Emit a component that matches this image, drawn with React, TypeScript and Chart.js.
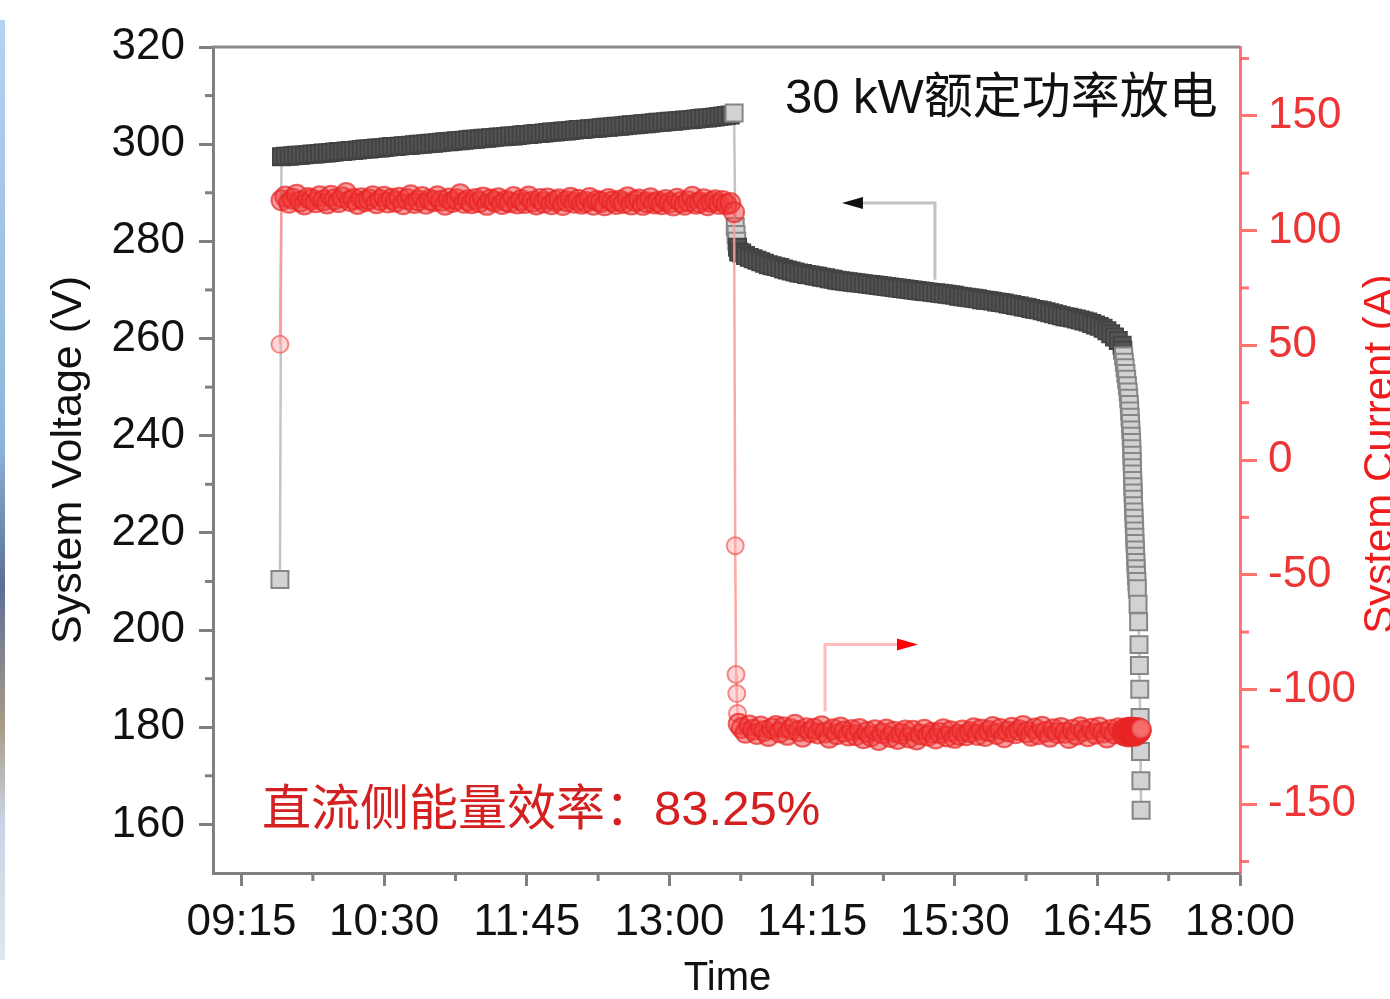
import React, { useEffect, useRef } from 'react';
import { Chart, registerables } from 'chart.js';

Chart.register(...registerables);

// ---- time axis (minutes after midnight) ----
const TIME_TICKS = [555, 630, 705, 780, 855, 930, 1005, 1080];
const TIME_TICK_LABELS = ['09:15', '10:30', '11:45', '13:00', '14:15', '15:30', '16:45', '18:00'];
const TIME_MINOR = [592.5, 667.5, 742.5, 817.5, 892.5, 967.5, 1042.5];

const VOLTAGE_TICKS = [160, 180, 200, 220, 240, 260, 280, 300, 320];
const VOLTAGE_MINOR = [170, 190, 210, 230, 250, 270, 290, 310];
const CURRENT_TICKS = [-150, -100, -50, 0, 50, 100, 150];
const CURRENT_MINOR = [-175, -125, -75, -25, 25, 75, 125, 175];

// ---- charging period ----
const CHARGE_TIME = [575.2,
  576, 578, 580, 582, 584, 586, 588, 590, 592, 594,
  596, 598, 600, 602, 604, 606, 608, 610, 612, 614,
  616, 618, 620, 622, 624, 626, 628, 630, 632, 634,
  636, 638, 640, 642, 644, 646, 648, 650, 652, 654,
  656, 658, 660, 662, 664, 666, 668, 670, 672, 674,
  676, 678, 680, 682, 684, 686, 688, 690, 692, 694,
  696, 698, 700, 702, 704, 706, 708, 710, 712, 714,
  716, 718, 720, 722, 724, 726, 728, 730, 732, 734,
  736, 738, 740, 742, 744, 746, 748, 750, 752, 754,
  756, 758, 760, 762, 764, 766, 768, 770, 772, 774,
  776, 778, 780, 782, 784, 786, 788, 790, 792, 794,
  796, 798, 800, 802, 804, 806, 808, 810, 812, 814];

const CHARGE_VOLTAGE = [210.4,
  297.4, 297.5, 297.5, 297.6, 297.7, 297.7, 297.8, 297.9, 298.0, 298.0,
  298.1, 298.2, 298.2, 298.3, 298.4, 298.5, 298.5, 298.6, 298.7, 298.7,
  298.8, 298.9, 299.0, 299.0, 299.1, 299.2, 299.2, 299.3, 299.4, 299.5,
  299.5, 299.6, 299.7, 299.7, 299.8, 299.9, 300.0, 300.0, 300.1, 300.2,
  300.2, 300.3, 300.4, 300.5, 300.5, 300.6, 300.7, 300.7, 300.8, 300.9,
  301.0, 301.0, 301.1, 301.2, 301.2, 301.3, 301.4, 301.5, 301.5, 301.6,
  301.7, 301.7, 301.8, 301.9, 302.0, 302.0, 302.1, 302.2, 302.2, 302.3,
  302.4, 302.5, 302.5, 302.6, 302.7, 302.7, 302.8, 302.9, 303.0, 303.0,
  303.1, 303.2, 303.2, 303.3, 303.4, 303.5, 303.5, 303.6, 303.7, 303.7,
  303.8, 303.9, 304.0, 304.0, 304.1, 304.2, 304.2, 304.3, 304.4, 304.5,
  304.5, 304.6, 304.7, 304.7, 304.8, 304.9, 305.0, 305.0, 305.1, 305.2,
  305.3, 305.4, 305.4, 305.5, 305.6, 305.7, 305.8, 305.9, 306.0, 306.4];

const CHARGE_CURRENT = [50.4,
  113.2, 114.8, 112.1, 113.9, 115.6, 112.7, 111.4, 114.2, 113.5, 112.3,
  114.9, 113.1, 111.8, 115.2, 113.6, 112.4, 114.5, 116.4, 112.9, 113.8,
  111.6, 114.1, 112.8, 113.5, 115.0, 111.9, 113.3, 114.7, 112.2, 113.9,
  112.6, 114.3, 111.5, 113.7, 115.4, 112.0, 113.1, 114.6, 111.7, 113.4,
  112.8, 114.9, 113.0, 111.3, 114.0, 112.5, 113.6, 115.8, 112.1, 113.2,
  111.9, 113.8, 112.4, 114.4, 111.2, 113.5, 112.7, 114.1, 111.6, 113.0,
  112.3, 114.6, 111.8, 113.3, 112.0, 114.8, 112.6, 111.4, 113.7, 112.2,
  114.0, 111.5, 112.9, 113.6, 111.1, 112.8, 114.3, 112.1, 113.4, 111.7,
  112.5, 114.2, 111.3, 113.0, 112.4, 111.0, 113.8, 112.7, 111.6, 113.1,
  112.0, 114.5, 111.4, 112.9, 113.5, 111.2, 112.3, 114.1, 111.8, 112.6,
  111.5, 113.3, 112.1, 110.9, 113.9, 112.4, 111.3, 112.8, 114.7, 111.7,
  112.2, 113.6, 111.0, 112.5, 113.2, 111.6, 112.9, 111.4, 112.0, 108.0];

// ---- switch-over to discharge ----
const STEP_TIME = [814.6, 815.0, 815.4, 815.8, 816.4];
const STEP_VOLTAGE = [283.0, 281.4, 280.0, 278.8, 277.8];
const STEP_CURRENT = [-37.4, -93.5, -101.8, -110.5, -115.0];

// ---- discharging period ----
const DISCHARGE_TIME = [
  818, 820, 822, 824, 826, 828, 830, 832, 834, 836,
  838, 840, 842, 844, 846, 848, 850, 852, 854, 856,
  858, 860, 862, 864, 866, 868, 870, 872, 874, 876,
  878, 880, 882, 884, 886, 888, 890, 892, 894, 896,
  898, 900, 902, 904, 906, 908, 910, 912, 914, 916,
  918, 920, 922, 924, 926, 928, 930, 932, 934, 936,
  938, 940, 942, 944, 946, 948, 950, 952, 954, 956,
  958, 960, 962, 964, 966, 968, 970, 972, 974, 976,
  978, 980, 982, 984, 986, 988, 990, 992, 994, 996,
  998, 1000, 1002, 1004, 1006, 1008, 1010, 1012, 1014, 1016];

const DISCHARGE_VOLTAGE = [
  277.6, 277.1, 276.7, 276.4, 276.1, 275.8, 275.5, 275.2, 275.0, 274.8,
  274.6, 274.3, 274.1, 273.9, 273.7, 273.5, 273.4, 273.2, 273.1, 272.9,
  272.8, 272.6, 272.5, 272.3, 272.2, 272.0, 271.9, 271.8, 271.7, 271.6,
  271.5, 271.4, 271.3, 271.2, 271.1, 271.0, 270.9, 270.8, 270.7, 270.6,
  270.5, 270.4, 270.3, 270.2, 270.1, 270.0, 269.9, 269.8, 269.7, 269.6,
  269.5, 269.4, 269.3, 269.2, 269.1, 269.0, 268.9, 268.7, 268.6, 268.5,
  268.4, 268.3, 268.2, 268.0, 267.9, 267.8, 267.7, 267.5, 267.4, 267.3,
  267.1, 267.0, 266.8, 266.7, 266.5, 266.4, 266.2, 266.0, 265.9, 265.7,
  265.5, 265.3, 265.1, 264.9, 264.7, 264.5, 264.4, 264.2, 264.0, 263.8,
  263.6, 263.4, 263.1, 262.8, 262.5, 262.1, 261.6, 261.0, 260.3, 259.6];

const DISCHARGE_CURRENT = [
  -116.8, -118.9, -115.7, -117.6, -119.4, -116.2, -118.1, -120.3, -117.0, -115.9,
  -118.7, -116.5, -119.8, -117.3, -115.4, -118.2, -120.6, -116.9, -118.5, -117.1,
  -119.2, -116.0, -118.8, -121.0, -117.4, -119.5, -116.6, -118.3, -120.1, -117.7,
  -119.9, -117.2, -121.3, -118.6, -120.4, -117.8, -122.0, -119.1, -117.5, -120.7,
  -118.4, -121.6, -119.3, -117.9, -120.9, -118.0, -121.8, -119.6, -117.6, -120.2,
  -118.9, -121.4, -119.0, -117.3, -120.5, -118.2, -121.1, -119.7, -117.9, -120.0,
  -118.6, -116.9, -119.8, -117.5, -120.3, -118.1, -116.4, -119.4, -117.2, -120.8,
  -118.3, -116.7, -119.1, -117.8, -115.9, -118.7, -120.2, -117.0, -119.5, -116.3,
  -118.4, -120.6, -117.4, -119.0, -116.8, -118.9, -121.2, -117.6, -119.7, -116.5,
  -118.0, -120.4, -117.1, -119.3, -116.6, -118.8, -120.9, -117.7, -119.2, -116.9];

// ---- end-of-discharge voltage collapse ----
const TAIL_TIME = [
  1018.0, 1018.4, 1018.8, 1019.2, 1019.6, 1020.0, 1020.4, 1020.8, 1021.2, 1021.5,
  1021.8, 1022.0, 1022.2, 1022.4, 1022.6, 1022.8, 1023.0, 1023.1, 1023.2, 1023.3,
  1023.4, 1023.5, 1023.6, 1023.7, 1023.8, 1023.9, 1024.0, 1024.2, 1024.3, 1024.4,
  1024.6, 1024.7, 1024.8, 1025.0, 1025.1, 1025.3, 1025.4, 1025.6, 1025.8, 1026.0,
  1026.4, 1026.7, 1026.9, 1027.1, 1027.3, 1027.5, 1027.7, 1027.9, 1028.0];

const TAIL_VOLTAGE = [
  258.6, 257.6, 256.4, 255.1, 254.0, 252.8, 251.6, 250.3, 249.0, 247.7,
  246.4, 245.1, 243.8, 242.5, 241.2, 239.9, 238.6, 237.3, 236.0, 234.7,
  233.4, 232.1, 230.8, 229.5, 228.2, 226.9, 225.6, 224.3, 223.0, 221.7,
  220.4, 219.1, 217.8, 216.5, 215.2, 213.9, 212.6, 211.3, 210.0, 208.5,
  205.3, 201.7, 197.0, 192.7, 187.8, 182.0, 175.0, 169.0, 162.9];

const TAIL_CURRENT = [
  -118.2, -119.6, -117.4, -120.1, -118.8, -116.9, -119.3, -117.8, -120.5, -118.1,
  -116.6, -119.0, -117.5, -120.3, -118.4, -116.8, -119.7, -117.2, -118.9, -120.0,
  -117.6, -119.1, -118.3, -116.7, -119.4, -117.9, -118.6, -117.3, -119.8, -118.0,
  -116.9, -119.2, -117.7, -118.5, -120.2, -117.1, -118.8, -119.5, -117.4, -118.2,
  -116.8, -119.0, -117.6, -118.9, -117.2, -118.4, -117.8, -117.5, -117.0];

// ---- texts ----
const TITLE_TEXT = '30 kW额定功率放电';
const EFFICIENCY_TEXT = '直流侧能量效率：83.25%';
const Y_TITLE = 'System Voltage (V)';
const Y1_TITLE = 'System Current (A)';
const X_TITLE = 'Time';

const FONT = "'Liberation Sans', Arial, 'Noto Sans CJK SC', sans-serif";

export default function App() {
  const ref = useRef<HTMLCanvasElement>(null);

  useEffect(() => {
    const canvas = ref.current;
    if (!canvas) return;

    const allTime = [...CHARGE_TIME, ...STEP_TIME, ...DISCHARGE_TIME, ...TAIL_TIME];
    const allVolt = [...CHARGE_VOLTAGE, ...STEP_VOLTAGE, ...DISCHARGE_VOLTAGE, ...TAIL_VOLTAGE];
    const allCurr = [...CHARGE_CURRENT, ...STEP_CURRENT, ...DISCHARGE_CURRENT, ...TAIL_CURRENT];

    const denseV = [
      ...CHARGE_TIME.map((_, i) => i > 0 && i < CHARGE_TIME.length - 1),
      ...STEP_TIME.map((_, i) => i >= 3),
      ...DISCHARGE_TIME.map(() => true),
      ...TAIL_TIME.map((_, i) => i < 2),
    ];
    const denseI = [
      ...CHARGE_TIME.map((_, i) => i > 0),
      ...STEP_TIME.map((_, i) => i >= 4),
      ...DISCHARGE_TIME.map(() => true),
      ...TAIL_TIME.map((_, i) => i < TAIL_TIME.length - 1),
    ];

    const voltData = allTime.map((t, i) => ({ x: t, y: allVolt[i] }));
    const currData = allTime.map((t, i) => ({ x: t, y: allCurr[i] }));

    const decor = {
      id: 'decor',
      afterDraw(chart: any) {
        const ctx = chart.ctx as CanvasRenderingContext2D;
        const { left, right, top, bottom } = chart.chartArea;
        const xs = chart.scales.x;
        const ys = chart.scales.y;
        const ys1 = chart.scales.y1;
        ctx.save();

        // thin strip at the left edge of the picture
        const g = ctx.createLinearGradient(0, 20, 0, 960);
        g.addColorStop(0, '#b4d3f0');
        g.addColorStop(0.45, '#8fb4dc');
        g.addColorStop(0.6, '#5c6f96');
        g.addColorStop(0.75, '#a99a86');
        g.addColorStop(0.85, '#c9d3e3');
        g.addColorStop(1, '#dfe6ef');
        ctx.fillStyle = g;
        ctx.fillRect(0, 20, 5, 940);

        // top frame line
        ctx.strokeStyle = '#8a8a8a';
        ctx.lineWidth = 3;
        ctx.beginPath();
        ctx.moveTo(left - 1, top);
        ctx.lineTo(right, top);
        ctx.stroke();

        // minor ticks
        ctx.lineWidth = 3;
        ctx.strokeStyle = '#808080';
        for (const v of VOLTAGE_MINOR) {
          const y = ys.getPixelForValue(v);
          ctx.beginPath(); ctx.moveTo(left - 8, y); ctx.lineTo(left, y); ctx.stroke();
        }
        for (const t of TIME_MINOR) {
          const x = xs.getPixelForValue(t);
          ctx.beginPath(); ctx.moveTo(x, bottom); ctx.lineTo(x, bottom + 8); ctx.stroke();
        }
        ctx.strokeStyle = 'rgba(255,90,90,0.85)';
        for (const v of CURRENT_MINOR) {
          const y = ys1.getPixelForValue(v);
          ctx.beginPath(); ctx.moveTo(right, y); ctx.lineTo(right + 9, y); ctx.stroke();
        }

        // axis titles
        ctx.textAlign = 'center';
        ctx.textBaseline = 'alphabetic';
        ctx.fillStyle = '#111';
        ctx.font = `43px ${FONT}`;
        ctx.save();
        ctx.translate(81, (top + bottom) / 2);
        ctx.rotate(-Math.PI / 2);
        ctx.fillText(Y_TITLE, 0, 0);
        ctx.restore();

        ctx.fillStyle = '#ee1c1c';
        ctx.font = `42px ${FONT}`;
        ctx.save();
        ctx.translate(1393, (top + bottom) / 2 - 6);
        ctx.rotate(-Math.PI / 2);
        ctx.fillText(Y1_TITLE, 0, 0);
        ctx.restore();

        ctx.fillStyle = '#111';
        ctx.font = `40px ${FONT}`;
        ctx.fillText(X_TITLE, (left + right) / 2 + 1, 990);

        // annotation texts
        ctx.textAlign = 'left';
        ctx.font = `49px ${FONT}`;
        ctx.fillStyle = '#111';
        ctx.fillText(TITLE_TEXT, xs.getPixelForValue(840.7), ys.getPixelForValue(306.4));
        ctx.fillStyle = '#d42020';
        ctx.fillText(EFFICIENCY_TEXT, xs.getPixelForValue(565.8), ys.getPixelForValue(159.8));

        // arrow pointing to the voltage axis
        const bx0 = xs.getPixelForValue(919.6);
        const byTop = ys.getPixelForValue(287.9);
        const byBot = ys.getPixelForValue(272.1);
        const bTip = xs.getPixelForValue(870.7);
        ctx.strokeStyle = '#c2c2c2';
        ctx.lineWidth = 3;
        ctx.beginPath();
        ctx.moveTo(bx0, byBot); ctx.lineTo(bx0, byTop); ctx.lineTo(bTip + 18, byTop);
        ctx.stroke();
        ctx.fillStyle = '#111';
        ctx.beginPath();
        ctx.moveTo(bTip, byTop); ctx.lineTo(bTip + 21, byTop - 6); ctx.lineTo(bTip + 21, byTop + 6);
        ctx.closePath(); ctx.fill();

        // arrow pointing to the current axis
        const rx0 = xs.getPixelForValue(861.8);
        const ryTop = ys1.getPixelForValue(-80.4);
        const ryBot = ys1.getPixelForValue(-109.6);
        const rTip = xs.getPixelForValue(910.7);
        ctx.strokeStyle = '#ffbcbc';
        ctx.lineWidth = 3;
        ctx.beginPath();
        ctx.moveTo(rx0, ryBot); ctx.lineTo(rx0, ryTop); ctx.lineTo(rTip - 18, ryTop);
        ctx.stroke();
        ctx.fillStyle = '#f00';
        ctx.beginPath();
        ctx.moveTo(rTip, ryTop); ctx.lineTo(rTip - 21, ryTop - 6); ctx.lineTo(rTip - 21, ryTop + 6);
        ctx.closePath(); ctx.fill();

        ctx.restore();
      },
    };

    const chart = new Chart(canvas, {
      type: 'scatter',
      data: {
        datasets: [
          {
            label: 'System Current',
            data: currData,
            yAxisID: 'y1',
            showLine: true,
            borderColor: 'rgba(255,150,150,0.85)',
            borderWidth: 2.5,
            pointStyle: 'circle',
            pointRadius: denseI.map((d) => (d ? 10 : 8.5)),
            pointBorderWidth: 2,
            pointBorderColor: denseI.map((d) => (d ? 'rgba(232,36,36,0.7)' : 'rgba(240,90,90,0.7)')),
            pointBackgroundColor: denseI.map((d) => (d ? 'rgba(240,60,60,0.5)' : 'rgba(255,170,170,0.45)')),
            tension: 0,
          } as any,
          {
            label: 'System Voltage',
            data: voltData,
            yAxisID: 'y',
            showLine: true,
            borderColor: 'rgba(190,190,190,0.9)',
            borderWidth: 2.5,
            pointStyle: 'rect',
            pointRadius: 12,
            pointBorderWidth: 2,
            pointBorderColor: denseV.map((d) => (d ? '#434343' : '#868686')),
            pointBackgroundColor: denseV.map((d) => (d ? '#545454' : '#d2d2d2')),
            tension: 0,
          } as any,
        ],
      },
      options: {
        responsive: false,
        animation: false,
        devicePixelRatio: 1,
        events: [],
        layout: { padding: { top: 47, left: 0, right: 0, bottom: 0 } },
        plugins: {
          legend: { display: false },
          tooltip: { enabled: false },
          title: { display: false },
        },
        scales: {
          x: {
            type: 'linear',
            position: 'bottom',
            min: 540,
            max: 1080,
            afterFit: (s: any) => { s.height = 126; },
            afterBuildTicks: (s: any) => { s.ticks = TIME_TICKS.map((v) => ({ value: v })); },
            grid: { drawOnChartArea: false, drawTicks: true, tickLength: 13, tickWidth: 3, tickColor: '#808080' },
            border: { display: true, color: '#808080', width: 3 },
            ticks: {
              autoSkip: false,
              maxRotation: 0,
              minRotation: 0,
              padding: 10,
              color: '#111',
              font: { family: FONT, size: 44 },
              callback: (_v: any, i: number) => TIME_TICK_LABELS[i],
            },
          },
          y: {
            type: 'linear',
            position: 'left',
            min: 150,
            max: 320,
            afterFit: (s: any) => { s.width = 213; },
            afterBuildTicks: (s: any) => { s.ticks = VOLTAGE_TICKS.map((v) => ({ value: v })); },
            grid: { drawOnChartArea: false, drawTicks: true, tickLength: 14, tickWidth: 3, tickColor: '#808080' },
            border: { display: true, color: '#808080', width: 3 },
            ticks: {
              padding: 14,
              color: '#111',
              font: { family: FONT, size: 44 },
              callback: (v: any) => String(v),
            },
          },
          y1: {
            type: 'linear',
            position: 'right',
            min: -180,
            max: 180,
            afterFit: (s: any) => { s.width = 150; },
            afterBuildTicks: (s: any) => { s.ticks = CURRENT_TICKS.map((v) => ({ value: v })); },
            grid: { drawOnChartArea: false, drawTicks: true, tickLength: 17, tickWidth: 3, tickColor: 'rgba(255,90,90,0.85)' },
            border: { display: true, color: 'rgba(255,90,90,0.85)', width: 3 },
            ticks: {
              padding: 11,
              color: '#ec3535',
              font: { family: FONT, size: 44 },
              callback: (v: any) => String(v),
            },
          },
        },
      } as any,
      plugins: [decor],
    });

    return () => chart.destroy();
  }, []);

  return (
    <div style={{ position: 'fixed', left: 0, top: 0, width: 1390, height: 999, background: '#fff' }}>
      <canvas ref={ref} width={1390} height={999} style={{ width: 1390, height: 999, display: 'block' }} />
    </div>
  );
}
